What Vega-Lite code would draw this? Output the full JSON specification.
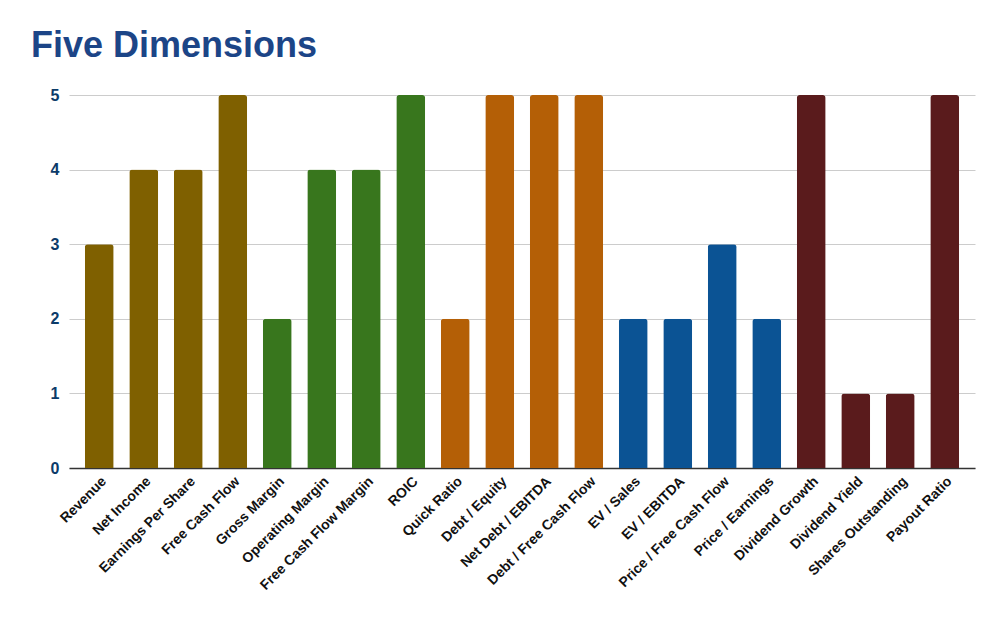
{
  "$schema": "https://vega.github.io/schema/vega-lite/v6.json",
  "width": 906,
  "height": 373,
  "autosize": {"type": "none"},
  "padding": {"left": 69, "top": 95, "right": 27, "bottom": 149},
  "background": "white",
  "title": {
    "text": "Five Dimensions",
    "anchor": "start",
    "frame": "group",
    "dx": -38,
    "offset": 22,
    "font": "Liberation Sans",
    "fontSize": 36,
    "fontWeight": "bold",
    "color": "#1c4587"
  },
  "data": {
    "values": [
      {"metric": "Revenue", "score": 3, "group": "Growth"},
      {"metric": "Net Income", "score": 4, "group": "Growth"},
      {"metric": "Earnings Per Share", "score": 4, "group": "Growth"},
      {"metric": "Free Cash Flow", "score": 5, "group": "Growth"},
      {"metric": "Gross Margin", "score": 2, "group": "Profitability"},
      {"metric": "Operating Margin", "score": 4, "group": "Profitability"},
      {"metric": "Free Cash Flow Margin", "score": 4, "group": "Profitability"},
      {"metric": "ROIC", "score": 5, "group": "Profitability"},
      {"metric": "Quick Ratio", "score": 2, "group": "Debt"},
      {"metric": "Debt / Equity", "score": 5, "group": "Debt"},
      {"metric": "Net Debt / EBITDA", "score": 5, "group": "Debt"},
      {"metric": "Debt / Free Cash Flow", "score": 5, "group": "Debt"},
      {"metric": "EV / Sales", "score": 2, "group": "Valuation"},
      {"metric": "EV / EBITDA", "score": 2, "group": "Valuation"},
      {"metric": "Price / Free Cash Flow", "score": 3, "group": "Valuation"},
      {"metric": "Price / Earnings", "score": 2, "group": "Valuation"},
      {"metric": "Dividend Growth", "score": 5, "group": "Dividend"},
      {"metric": "Dividend Yield", "score": 1, "group": "Dividend"},
      {"metric": "Shares Outstanding", "score": 1, "group": "Dividend"},
      {"metric": "Payout Ratio", "score": 5, "group": "Dividend"}
    ]
  },
  "mark": {"type": "bar", "cornerRadiusTopLeft": 3, "cornerRadiusTopRight": 3},
  "encoding": {
    "x": {
      "field": "metric",
      "type": "nominal",
      "sort": null,
      "title": null,
      "scale": {"paddingInner": 0.35, "paddingOuter": 0.355},
      "axis": {
        "labelAngle": -45,
        "labelFont": "Liberation Sans",
        "labelFontSize": 14,
        "labelFontWeight": "bold",
        "labelColor": "#111111",
        "ticks": false,
        "labelPadding": 6,
        "domainColor": "#333333",
        "domainWidth": 1.5,
        "grid": false
      }
    },
    "y": {
      "field": "score",
      "type": "quantitative",
      "title": null,
      "scale": {"domain": [0, 5]},
      "axis": {
        "values": [0, 1, 2, 3, 4, 5],
        "labelFont": "Liberation Sans",
        "labelFontSize": 16,
        "labelFontWeight": "bold",
        "labelColor": "#0c3b69",
        "labelPadding": 10,
        "ticks": false,
        "domain": false,
        "gridColor": "#cccccc",
        "gridWidth": 1
      }
    },
    "color": {
      "field": "group",
      "type": "nominal",
      "legend": null,
      "scale": {
        "domain": ["Growth", "Profitability", "Debt", "Valuation", "Dividend"],
        "range": ["#7f6000", "#38761d", "#b45f06", "#0b5394", "#5a1b1c"]
      }
    }
  },
  "config": {"view": {"stroke": null}}
}
